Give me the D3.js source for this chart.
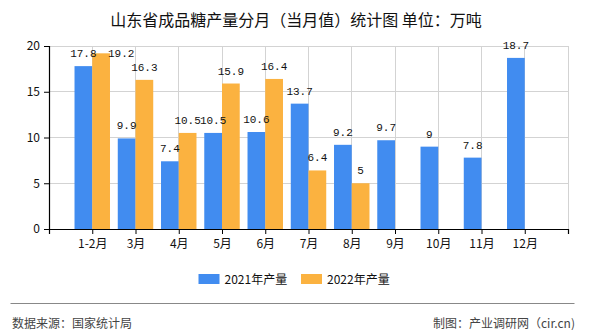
<!DOCTYPE html>
<html><head><meta charset="utf-8">
<script src="https://cdn.jsdelivr.net/npm/d3@7/dist/d3.min.js"></script>
<style>body{margin:0;background:#fff}svg{display:block}</style>
</head><body><div id="chart"></div>
<script>
const categories = ["1-2月","3月","4月","5月","6月","7月","8月","9月","10月","11月","12月"];
const values2021 = [17.8, 9.9, 7.4, 10.5, 10.6, 13.7, 9.2, 9.7, 9, 7.8, 18.7];
const values2022 = [19.2, 16.3, 10.5, 15.9, 16.4, 6.4, 5, null, null, null, null];
const seriesNames = ["2021年产量", "2022年产量"];
const yTicks = [0, 5, 10, 15, 20];
const titleText = "山东省成品糖产量分月（当月值）统计图 单位：万吨";
const sourceText = "数据来源：国家统计局";
const makerText = "制图：产业调研网（cir.cn)";

const W = 590, H = 330;
const colors = ["#418cf0", "#fbb240"];
const L = 49, R = 568, T = 46, B = 229;

const svg = d3.select("#chart").append("svg").attr("width", W).attr("height", H);
const x = d3.scaleLinear().domain([0, categories.length + 1]).range([L, R]);
const y = d3.scaleLinear().domain([0, 20]).range([B, T]);
const step = x(1) - x(0);
const bw = step * 0.41;

// title
svg.append("text").attr("x", 296).attr("y", 26).attr("text-anchor", "middle")
  .attr("font-family", "'Noto Sans CJK SC', sans-serif").attr("font-size", 16).attr("fill", "#111")
  .text(titleText);

// grid
const grid = svg.append("g");
yTicks.filter(d => d > 0).forEach(t => {
  grid.append("line").attr("x1", L).attr("x2", R).attr("y1", y(t)).attr("y2", y(t))
    .attr("stroke", "#d3d3d3").attr("stroke-width", 1).attr("shape-rendering", "crispEdges");
});
d3.range(1, categories.length + 2).forEach(i => {
  grid.append("line").attr("x1", x(i)).attr("x2", x(i)).attr("y1", T).attr("y2", B)
    .attr("stroke", "#d3d3d3").attr("stroke-width", 1).attr("shape-rendering", "crispEdges");
});

// bars
const series = [values2021, values2022];
series.forEach((vals, si) => {
  svg.append("g").selectAll("rect").data(vals.map((v, i) => ({v, i})).filter(d => d.v != null))
    .join("rect")
    .attr("x", d => si === 0 ? x(d.i + 1) - bw : x(d.i + 1))
    .attr("y", d => y(d.v))
    .attr("width", bw)
    .attr("height", d => B - y(d.v))
    .attr("fill", colors[si]);
});

// labels
const lab = svg.append("g").attr("font-family", "'Liberation Mono', 'DejaVu Sans Mono', monospace")
  .attr("font-size", 11).attr("fill", "#111");
series.forEach((vals, si) => {
  vals.forEach((v, i) => {
    if (v == null) return;
    const x0 = si === 0 ? x(i + 1) - bw : x(i + 1);
    let tx = x0 + bw / 2, ty = y(v) - 9, anchor = "middle";
    if (ty < T) { tx = x0 + bw - 2; ty = y(v) + 4; anchor = "start"; }
    lab.append("text").attr("x", tx).attr("y", ty).attr("text-anchor", anchor).text(String(v));
  });
});

// axes
const yAxis = svg.append("g").attr("transform", `translate(${L},0)`)
  .call(d3.axisLeft(y).tickValues(yTicks).tickSize(5).tickPadding(4).tickFormat(d3.format("d")));
const xAxis = svg.append("g").attr("transform", `translate(0,${B})`)
  .call(d3.axisBottom(x).tickValues(d3.range(0, categories.length + 2)).tickSize(5).tickPadding(5)
    .tickFormat(d => (d >= 1 && d <= categories.length) ? categories[d - 1] : ""));
[yAxis, xAxis].forEach(g => {
  g.select(".domain").attr("stroke", "#000").attr("stroke-width", 1.2);
  g.selectAll(".tick line").attr("stroke", "#000");
  g.selectAll("text").attr("font-family", "'Noto Sans CJK SC', sans-serif").attr("font-size", 12).attr("fill", "#111");
});

// legend
const lg = svg.append("g").attr("font-family", "'Noto Sans CJK SC', sans-serif").attr("font-size", 12);
const lx = [198.5, 301];
seriesNames.forEach((n, i) => {
  lg.append("rect").attr("x", lx[i]).attr("y", 274).attr("width", 21).attr("height", 10).attr("fill", colors[i]);
  lg.append("text").attr("x", lx[i] + 26).attr("y", 283.5).attr("fill", "#111").text(n);
});

// footer
svg.append("line").attr("x1", 10.5).attr("x2", 574.5).attr("y1", 303.5).attr("y2", 303.5)
  .attr("stroke", "#888").attr("stroke-width", 1);
svg.append("text").attr("x", 12).attr("y", 328).attr("font-family", "'Noto Sans CJK SC', sans-serif")
  .attr("font-size", 12).attr("fill", "#444").text(sourceText);
svg.append("text").attr("x", 575).attr("y", 328).attr("text-anchor", "end").attr("font-family", "'Noto Sans CJK SC', sans-serif")
  .attr("font-size", 12).attr("fill", "#444").text(makerText);
</script></body></html>
